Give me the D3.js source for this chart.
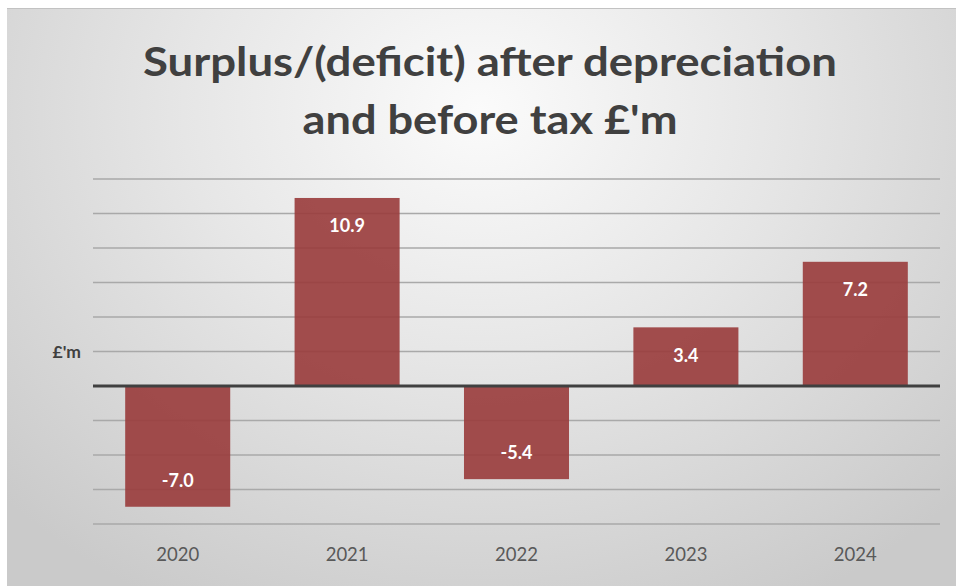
<!DOCTYPE html>
<html>
<head>
<meta charset="utf-8">
<script src="https://cdn.jsdelivr.net/npm/d3@7"></script>
<style>
  html, body { margin: 0; padding: 0; background: #ffffff; }
  svg { display: block; }
</style>
</head>
<body>
<svg id="chart" width="958" height="586"></svg>
<script>
// Surplus/(deficit) after depreciation and before tax, £m by year
const years = ["2020", "2021", "2022", "2023", "2024"];
const values = [-7.0, 10.9, -5.4, 3.4, 7.2];
const valueLabels = ["-7.0", "10.9", "-5.4", "3.4", "7.2"];
const gridTicks = [-8, -6, -4, -2, 0, 2, 4, 6, 8, 10, 12];
const titleLines = ["Surplus/(deficit) after depreciation", "and before tax £'m"];
const axisTitle = "£'m";

const svg = d3.select("#chart");
const W = 958, H = 586;

// panel background with soft radial shading
const defs = svg.append("defs");
const grad = defs.append("radialGradient")
  .attr("id", "bg").attr("gradientUnits", "userSpaceOnUse")
  .attr("cx", 480).attr("cy", 110).attr("r", 660)
  .attr("gradientTransform", "translate(480,110) scale(1,0.85) translate(-480,-110)");
grad.append("stop").attr("offset", "0%").attr("stop-color", "#fbfbfb");
grad.append("stop").attr("offset", "45%").attr("stop-color", "#e6e6e6");
grad.append("stop").attr("offset", "100%").attr("stop-color", "#cacaca");

svg.append("rect").attr("x", 7).attr("y", 8).attr("width", W - 9).attr("height", H - 8)
  .attr("fill", "url(#bg)");
svg.append("line").attr("x1", 7).attr("x2", W - 2).attr("y1", 8.5).attr("y2", 8.5)
  .attr("stroke", "#c2c2c2").attr("stroke-width", 1);

const plot = { left: 93, right: 940, top: 179, bottom: 524 };

const x = d3.scaleBand().domain(years)
  .range([plot.left, plot.right]).paddingInner(0.38).paddingOuter(0.19);
const y = d3.scaleLinear().domain([-8, 12]).range([plot.bottom, plot.top]);

// horizontal gridlines
svg.append("g").selectAll("line")
  .data(gridTicks.filter(d => d !== 0))
  .join("line")
  .attr("x1", plot.left).attr("x2", plot.right)
  .attr("y1", d => y(d)).attr("y2", d => y(d))
  .attr("stroke", "#a9a9a9").attr("stroke-width", 1.5);

// bars (slightly translucent, so the gridlines show through)
svg.append("g").selectAll("rect")
  .data(values)
  .join("rect")
  .attr("x", (d, i) => x(years[i]))
  .attr("width", x.bandwidth())
  .attr("y", d => y(Math.max(0, d)))
  .attr("height", d => Math.abs(y(d) - y(0)))
  .attr("fill", "#993b3b")
  .attr("fill-opacity", 0.9);

// zero axis line
svg.append("line")
  .attr("x1", plot.left).attr("x2", plot.right)
  .attr("y1", y(0)).attr("y2", y(0))
  .attr("stroke", "#404040").attr("stroke-width", 3);

// value labels inside the bar ends
svg.append("g").selectAll("text")
  .data(values)
  .join("text")
  .attr("x", (d, i) => x(years[i]) + x.bandwidth() / 2)
  .attr("y", d => d >= 0 ? y(d) + 28 : y(d) - 26)
  .attr("dy", "0.35em")
  .attr("text-anchor", "middle")
  .attr("font-family", "Lato, 'Open Sans', sans-serif")
  .attr("font-weight", 700)
  .attr("font-size", 18)
  .attr("fill", "#ffffff")
  .text((d, i) => valueLabels[i]);

// category axis labels
const xAxis = svg.append("g")
  .attr("transform", `translate(0,${plot.bottom})`)
  .call(d3.axisBottom(x).tickSize(0).tickPadding(24));
xAxis.select(".domain").remove();
xAxis.selectAll("text")
  .attr("font-family", "Lato, 'Open Sans', sans-serif")
  .attr("font-size", 18.5)
  .attr("fill", "#595959");

// value axis title
svg.append("text")
  .attr("x", 81).attr("y", y(2)).attr("dy", "0.35em")
  .attr("text-anchor", "end")
  .attr("font-family", "Lato, 'Open Sans', sans-serif")
  .attr("font-weight", 700)
  .attr("font-size", 17.5)
  .attr("fill", "#404040")
  .text(axisTitle);

// chart title, compressed horizontally to the narrow face proportions
const titleWidths = [694, 375];
const titleY = [62, 120];
titleLines.forEach((line, i) => {
  svg.append("text")
    .attr("x", 490).attr("y", titleY[i]).attr("dy", "0.35em")
    .attr("text-anchor", "middle")
    .attr("font-family", "Lato, 'Open Sans', sans-serif")
    .attr("font-weight", 700)
    .attr("font-size", 40)
    .attr("fill", "#404040")
    .attr("textLength", titleWidths[i])
    .attr("lengthAdjust", "spacingAndGlyphs")
    .text(line);
});
</script>
</body>
</html>
